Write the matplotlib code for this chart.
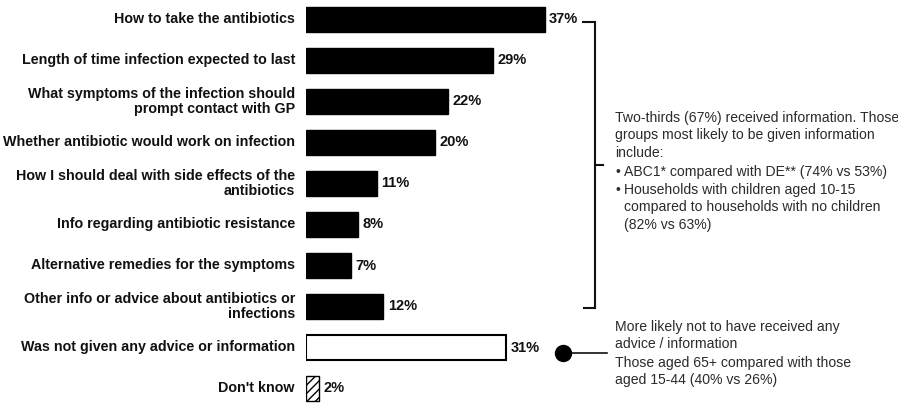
import matplotlib
matplotlib.use("Agg")
import matplotlib.pyplot as plt
from matplotlib.lines import Line2D

plt.rcParams['font.family'] = ['Liberation Sans', 'DejaVu Sans']

# data
categories = [
    "How to take the antibiotics",
    "Length of time infection expected to last",
    "What symptoms of the infection should\nprompt contact with GP",
    "Whether antibiotic would work on infection",
    "How I should deal with side effects of the\nantibiotics",
    "Info regarding antibiotic resistance",
    "Alternative remedies for the symptoms",
    "Other info or advice about antibiotics or\ninfections",
    "Was not given any advice or information",
    "Don't know",
]
values = [37, 29, 22, 20, 11, 8, 7, 12, 31, 2]
bar_styles = ["solid"] * 8 + ["empty", "hatch"]

note_received = [
    "Two-thirds (67%) received information. Those\ngroups most likely to be given information\ninclude:",
]
note_bullets = [
    "ABC1* compared with DE** (74% vs 53%)",
    "Households with children aged 10-15\ncompared to households with no children\n(82% vs 63%)",
]
note_not_received = [
    "More likely not to have received any\nadvice / information",
    "Those aged 65+ compared with those\naged 15-44 (40% vs 26%)",
]

W, H = 898, 403
fig = plt.figure(figsize=(W / 100, H / 100), dpi=100)


def px(x, y):
    return x / W, 1 - y / H


# axes: left edge at the bar start, scale 6.45 px per percent
left = 306
ax = fig.add_axes([left / W, 0, 1 - left / W, 1])
ax.set_xlim(0, (W - left) / 6.45)
row0, step = 19.5, 41.0
ax.set_ylim((H - row0) / step, -row0 / step)
ax.axis("off")

ypos = list(range(len(categories)))
for y, v, st in zip(ypos, values, bar_styles):
    if st == "solid":
        ax.barh(y, v, height=0.61, color="black", edgecolor="black", linewidth=1)
    elif st == "empty":
        ax.barh(y, v, height=0.61, color="white", edgecolor="black", linewidth=1.5)
    else:
        ax.barh(y, v, height=0.61, color="white", edgecolor="black",
                linewidth=1, hatch="////")
    ax.text(v + 0.7, y, f"{v}%", va="center", ha="left", fontsize=10.5,
            fontweight="bold", color="#111111")

for y, lab in zip(ypos, categories):
    ax.annotate(lab, xy=(0, y), xytext=(-11, 0), textcoords="offset pixels",
                ha="right", va="center", fontsize=10.3, fontweight="bold",
                color="#111111", linespacing=1.1)

# bracket for those who received information
bx = 595
for xs, ys in [((583, bx), (22, 22)), ((bx, bx), (22, 308)),
               ((bx, 584), (308, 308)), ((bx, 603), (165, 165))]:
    fig.add_artist(Line2D([px(x, 0)[0] for x in xs], [px(0, y)[1] for y in ys],
                          color="#111111", lw=1.5))

# dot and line for those who did not
fig.add_artist(Line2D([px(563, 0)[0], px(607, 0)[0]], [px(0, 353)[1]] * 2,
                      color="#111111", lw=1.2))
fig.add_artist(Line2D([px(563, 0)[0]], [px(0, 353)[1]], marker="o",
                      markersize=11.5, color="black"))

tc = "#2b2b2b"
fs = 10.1
ls = 1.3
fig.text(*px(615, 111), note_received[0], ha="left", va="top", fontsize=fs,
         color=tc, linespacing=ls)
for (y, txt) in zip([165, 183], note_bullets):
    fig.text(*px(615, y), "\u2022", ha="left", va="top", fontsize=fs, color=tc)
    fig.text(*px(624, y), txt, ha="left", va="top", fontsize=fs, color=tc,
             linespacing=ls)
for (y, txt) in zip([320, 356], note_not_received):
    fig.text(*px(615, y), txt, ha="left", va="top", fontsize=fs, color=tc,
             linespacing=ls)

fig.savefig("out.png", dpi=100)
